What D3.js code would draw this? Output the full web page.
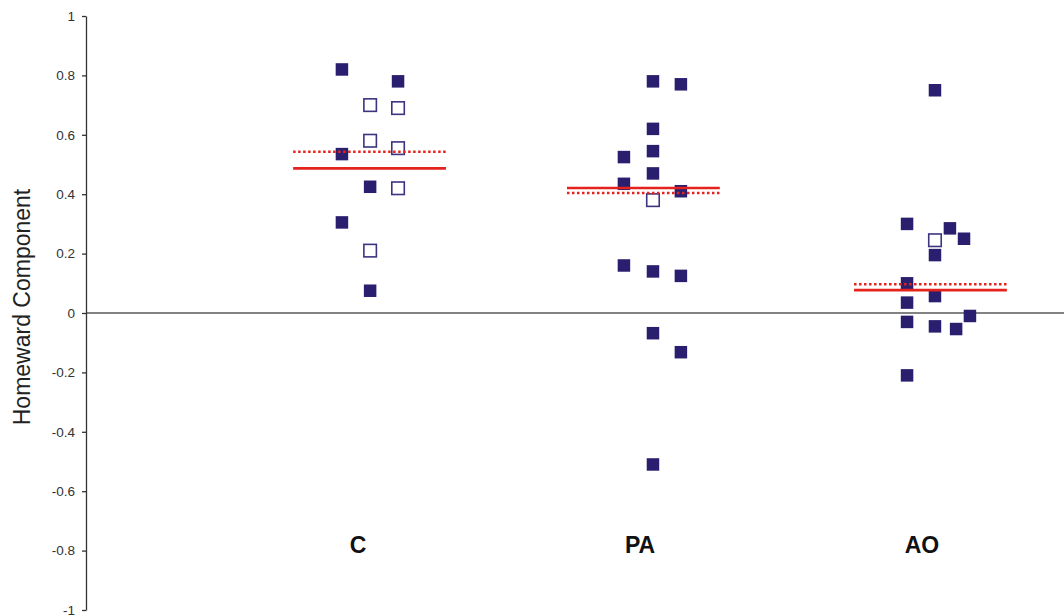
<!DOCTYPE html>
<html>
<head>
<meta charset="utf-8">
<script src="https://cdn.jsdelivr.net/npm/d3@7"></script>
<style>
  body { margin: 0; background: #fff; }
  svg { display: block; font-family: "Liberation Sans", Arial, sans-serif; }
</style>
</head>
<body>
<svg id="chart"></svg>
<script>
// groups and tick labels
const categories = ["C", "PA", "AO"];
const yTicks = [1, 0.8, 0.6, 0.4, 0.2, 0, -0.2, -0.4, -0.6, -0.8, -1];

// individual points: jittered x (in category units), value, open marker?
const cPos    = [0.943, 1.142, 1.043, 1.142, 1.043, 1.142, 0.943, 1.043, 1.142, 0.943, 1.043, 1.043];
const cValues = [0.82, 0.78, 0.70, 0.69, 0.58, 0.555, 0.535, 0.425, 0.42, 0.305, 0.21, 0.075];
const cOpen   = [0, 0, 1, 1, 1, 1, 0, 0, 1, 0, 1, 0];

const paPos    = [2.046, 2.145, 2.046, 1.943, 2.046, 2.046, 1.943, 2.145, 2.046, 1.943, 2.046, 2.145, 2.046, 2.145, 2.046];
const paValues = [0.78, 0.77, 0.62, 0.525, 0.545, 0.47, 0.435, 0.41, 0.38, 0.16, 0.14, 0.125, -0.068, -0.132, -0.51];
const paOpen   = [0, 0, 0, 0, 0, 0, 0, 0, 1, 0, 0, 0, 0, 0, 0];

const aoPos    = [3.046, 2.947, 3.099, 3.046, 3.149, 3.046, 2.947, 2.947, 3.046, 2.947, 3.170, 3.046, 3.121, 2.947];
const aoValues = [0.75, 0.30, 0.285, 0.245, 0.25, 0.195, 0.10, 0.035, 0.057, -0.03, -0.01, -0.045, -0.054, -0.21];
const aoOpen   = [0, 0, 0, 1, 0, 0, 0, 0, 0, 0, 0, 0, 0, 0];

// group means: solid and dotted red lines
const meanCenter = [1.041, 2.012, 3.030];
const solidMean  = [0.487, 0.421, 0.077];
const dottedMean = [0.543, 0.404, 0.097];

const width = 1064;
const height = 616;
const navy = "#2a1f6f";
const red = "#e3231c";

const svg = d3.select("#chart")
  .attr("width", width)
  .attr("height", height);

const xScale = d3.scaleLinear().domain([1, 3]).range([358, 922]);
const yScale = d3.scaleLinear().domain([-1, 1]).range([610, 16]);
const axisX = 86;

const points = [];
[[cPos, cValues, cOpen], [paPos, paValues, paOpen], [aoPos, aoValues, aoOpen]].forEach(([pos, vals, open]) => {
  vals.forEach((v, i) => points.push({ x: pos[i], y: v, open: open[i] === 1 }));
});

// zero line
svg.append("line")
  .attr("x1", axisX)
  .attr("x2", width)
  .attr("y1", yScale(0))
  .attr("y2", yScale(0))
  .attr("stroke", "#5a5a5a")
  .attr("stroke-width", 1.5);

// y axis
const yAxis = svg.append("g")
  .attr("transform", `translate(${axisX},0)`)
  .call(d3.axisLeft(yScale)
    .tickValues(yTicks)
    .tickSize(4)
    .tickSizeOuter(0)
    .tickPadding(7)
    .tickFormat(d => String(+d.toFixed(1))));

yAxis.select(".domain").attr("stroke", "#333").attr("stroke-width", 1.3);
yAxis.selectAll(".tick line").attr("stroke", "#333").attr("stroke-width", 1.3);
yAxis.selectAll("text")
  .style("fill", "#333")
  .style("font-size", "13.5px")
  .style("font-family", "'Liberation Sans', Arial, sans-serif");

svg.append("text")
  .attr("transform", `translate(30,307) rotate(-90)`)
  .attr("text-anchor", "middle")
  .style("font-size", "23px")
  .style("fill", "#222")
  .text("Homeward Component");

// category labels
svg.selectAll(".cat")
  .data(categories)
  .enter().append("text")
  .attr("class", "cat")
  .attr("x", (d, i) => xScale(i + 1))
  .attr("y", 553)
  .attr("text-anchor", "middle")
  .style("font-size", "23px")
  .style("font-weight", "bold")
  .style("fill", "#111")
  .text(d => d);

// points
const size = 12.5;
svg.selectAll(".pt")
  .data(points)
  .enter().append("rect")
  .attr("class", "pt")
  .attr("x", d => xScale(d.x) - size / 2)
  .attr("y", d => yScale(d.y) - size / 2)
  .attr("width", size)
  .attr("height", size)
  .attr("fill", d => d.open ? "#fff" : navy)
  .attr("stroke", d => d.open ? "#3b3580" : "none")
  .attr("stroke-width", 1.6);

// mean lines
const halfLen = 0.271;
svg.selectAll(".dotted")
  .data(dottedMean)
  .enter().append("line")
  .attr("x1", (d, i) => xScale(meanCenter[i] - halfLen))
  .attr("x2", (d, i) => xScale(meanCenter[i] + halfLen))
  .attr("y1", d => yScale(d))
  .attr("y2", d => yScale(d))
  .attr("stroke", red)
  .attr("stroke-width", 2.6)
  .attr("stroke-dasharray", "2.5,2.5");

svg.selectAll(".solid")
  .data(solidMean)
  .enter().append("line")
  .attr("x1", (d, i) => xScale(meanCenter[i] - halfLen))
  .attr("x2", (d, i) => xScale(meanCenter[i] + halfLen))
  .attr("y1", d => yScale(d))
  .attr("y2", d => yScale(d))
  .attr("stroke", red)
  .attr("stroke-width", 2.6);
</script>
</body>
</html>
